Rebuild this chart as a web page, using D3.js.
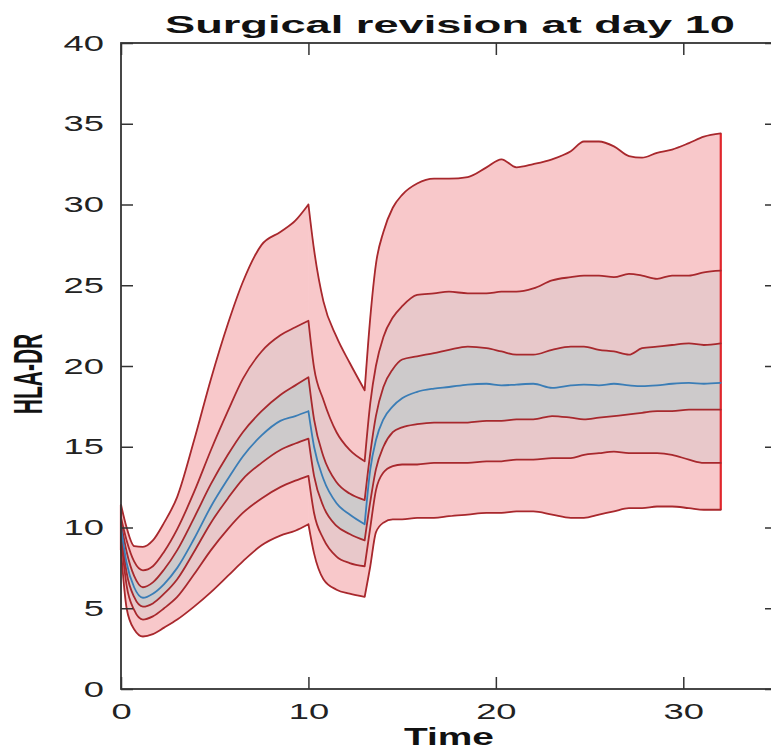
<!DOCTYPE html>
<html>
<head>
<meta charset="utf-8">
<script src="https://cdn.jsdelivr.net/npm/d3@7"></script>
<style>
  body { margin: 0; background: #fff; }
  text { font-family: "Liberation Sans", Arial, Helvetica, sans-serif; }
</style>
</head>
<body>
<script>
// time points (days)
var time = [0, 0.3, 0.7, 1.17, 1.7, 2.3, 3, 3.9, 4.8, 5.7, 6.5, 7.5, 8.5, 9.3, 10,
  10.3, 10.8, 11.5, 12.2, 13, 13.3, 13.6, 14, 14.5, 15, 15.8, 16.7, 17.5, 18.5, 19.5,
  20.3, 21.1, 22, 23, 24, 24.7, 25.5, 26.3, 27.1, 27.8, 28.6, 29.4, 30.3, 31.1, 32];

// percentile curves, outer -> inner
var outerHi = [11.4, 10.0, 8.85, 8.8, 9.2, 10.3, 11.9, 15.4, 19.2, 22.6, 25.2, 27.5, 28.3, 29.0, 30.0,
  27.2, 24.0, 21.8, 20.2, 18.5, 23.0, 26.3, 28.3, 29.8, 30.6, 31.3, 31.6, 31.6, 31.7, 32.3,
  32.8, 32.3, 32.5, 32.8, 33.3, 33.9, 33.9, 33.6, 33.0, 32.9, 33.2, 33.4, 33.8, 34.2, 34.4];
var midHi = [10.6, 9.2, 7.9, 7.35, 7.6, 8.5, 9.9, 12.2, 14.8, 17.2, 19.2, 20.9, 21.9, 22.4, 22.8,
  19.9, 17.9, 15.9, 14.8, 14.1, 17.7, 20.0, 21.8, 23.0, 23.7, 24.4, 24.5, 24.6, 24.5, 24.5,
  24.6, 24.6, 24.8, 25.3, 25.5, 25.6, 25.6, 25.5, 25.7, 25.6, 25.4, 25.6, 25.6, 25.8, 25.9];
var innerHi = [10.3, 8.5, 7.0, 6.3, 6.6, 7.4, 8.6, 10.6, 12.7, 14.5, 15.9, 17.2, 18.2, 18.8, 19.3,
  16.7, 14.4, 12.8, 12.1, 11.7, 14.6, 16.9, 18.7, 19.8, 20.4, 20.6, 20.8, 21.0, 21.2, 21.1,
  20.9, 20.7, 20.7, 21.0, 21.2, 21.2, 21.0, 20.9, 20.7, 21.1, 21.2, 21.3, 21.4, 21.3, 21.4];
var median = [10.0, 7.8, 6.3, 5.65, 5.9, 6.5, 7.5, 9.3, 11.3, 13.0, 14.4, 15.7, 16.6, 16.9, 17.2,
  15.0, 13.0, 11.5, 10.8, 10.2, 13.6, 15.4, 16.7, 17.5, 18.0, 18.4, 18.6, 18.7, 18.85, 18.9,
  18.8, 18.85, 18.9, 18.65, 18.8, 18.85, 18.8, 18.9, 18.8, 18.75, 18.8, 18.9, 18.95, 18.9, 18.95];
var innerLo = [9.8, 7.2, 5.7, 5.1, 5.3, 5.9, 6.8, 8.5, 10.3, 11.8, 13.0, 14.0, 14.8, 15.2, 15.5,
  13.2, 11.3, 10.1, 9.6, 9.2, 11.6, 13.6, 15.0, 15.9, 16.2, 16.4, 16.5, 16.5, 16.5, 16.6,
  16.6, 16.7, 16.7, 16.9, 16.8, 16.7, 16.8, 16.9, 17.0, 17.1, 17.2, 17.2, 17.3, 17.3, 17.3];
var midLo = [9.4, 6.4, 4.9, 4.3, 4.5, 5.0, 5.7, 7.1, 8.6, 9.9, 10.9, 11.8, 12.5, 12.9, 13.2,
  10.9, 9.3, 8.2, 7.8, 7.6, 10.0, 12.3, 13.4, 13.8, 13.9, 13.9, 14.0, 14.0, 14.0, 14.1,
  14.1, 14.2, 14.2, 14.3, 14.3, 14.5, 14.6, 14.7, 14.6, 14.6, 14.6, 14.5, 14.2, 14.0, 14.0];
var outerLo = [8.6, 5.0, 3.7, 3.25, 3.4, 3.8, 4.3, 5.1, 6.0, 7.0, 7.9, 8.9, 9.5, 9.8, 10.2,
  8.4, 6.8, 6.15, 5.9, 5.7, 7.6, 9.7, 10.3, 10.5, 10.5, 10.6, 10.6, 10.7, 10.8, 10.9,
  10.9, 11.0, 11.0, 10.8, 10.6, 10.6, 10.8, 11.0, 11.2, 11.2, 11.3, 11.3, 11.2, 11.1, 11.1];

// the curves have sharp corners at these days (start of decay, revision)
var breakDays = [10, 13];

var xTicks = [0, 10, 20, 30];
var yTicks = [0, 5, 10, 15, 20, 25, 30, 35, 40];

var svgWidth = 771, svgHeight = 749;
var margin = {top: 43, left: 121};
var chartWidth = 656, chartHeight = 646;

var svg = d3.select("body")
  .append("svg")
  .attr("width", svgWidth)
  .attr("height", svgHeight);

var chartGroup = svg.append("g")
  .attr("transform", `translate(${margin.left}, ${margin.top})`);

var x = d3.scaleLinear().domain([0, 35]).range([0, chartWidth]);
var y = d3.scaleLinear().domain([0, 40]).range([chartHeight, 0]);

// index ranges between the corners
var cuts = [0].concat(breakDays.map(b => time.indexOf(b)), [time.length - 1]);
var segments = d3.pairs(cuts).map(p => d3.range(p[0], p[1] + 1));

function drawBand(lo, hi, color) {
  var area = d3.area()
    .curve(d3.curveMonotoneX)
    .x(i => x(time[i]))
    .y0(i => y(lo[i]))
    .y1(i => y(hi[i]));
  segments.forEach(function(seg) {
    chartGroup.append("path")
      .attr("d", area(seg))
      .style("fill", color)
      .style("stroke", color)
      .style("stroke-width", 0.8);
  });
}

function drawLine(s, color) {
  var line = d3.line()
    .curve(d3.curveMonotoneX)
    .x(i => x(time[i]))
    .y(i => y(s[i]));
  chartGroup.append("path")
    .attr("d", segments.map(seg => line(seg)).join(""))
    .style("fill", "none")
    .style("stroke", color)
    .style("stroke-width", 1.8)
    .style("stroke-linecap", "round")
    .style("stroke-linejoin", "round");
}

drawBand(outerLo, outerHi, "#f8c8ca");
drawBand(midLo, midHi, "#e8c8ca");
drawBand(innerLo, innerHi, "#cdcacb");

// bright red patch edges at both ends
[0, time.length - 1].forEach(function(i) {
  chartGroup.append("line")
    .attr("x1", x(time[i])).attr("x2", x(time[i]))
    .attr("y1", y(outerLo[i])).attr("y2", y(outerHi[i]))
    .style("stroke", "#e0262c")
    .style("stroke-width", 2.2);
});

[outerHi, midHi, innerHi, innerLo, midLo, outerLo].forEach(s => drawLine(s, "#a8282d"));
drawLine(median, "#3a7db6");

// axes, ticks point inward on all four sides
function styleAxis(g) {
  g.select(".domain").remove();
  g.selectAll(".tick line").style("stroke", "#333").style("stroke-width", 1.5);
  g.selectAll(".tick text")
    .style("font-size", "22px")
    .style("fill", "#222")
    .each(function() {
      var w = this.getComputedTextLength();
      d3.select(this).attr("textLength", w * 1.65).attr("lengthAdjust", "spacingAndGlyphs");
    });
}

chartGroup.append("g")
  .attr("transform", `translate(0, ${chartHeight})`)
  .call(d3.axisBottom(x).tickValues(xTicks).tickSizeInner(-12).tickSizeOuter(0).tickPadding(14))
  .call(styleAxis);

chartGroup.append("g")
  .call(d3.axisLeft(y).tickValues(yTicks).tickSizeInner(-12).tickSizeOuter(0).tickPadding(17))
  .call(styleAxis);

chartGroup.append("g")
  .call(d3.axisTop(x).tickValues(xTicks).tickSizeInner(-12).tickSizeOuter(0).tickFormat(""))
  .call(styleAxis);

chartGroup.append("g")
  .attr("transform", `translate(${chartWidth}, 0)`)
  .call(d3.axisRight(y).tickValues(yTicks).tickSizeInner(-12).tickSizeOuter(0).tickFormat(""))
  .call(styleAxis);

chartGroup.append("rect")
  .attr("width", chartWidth)
  .attr("height", chartHeight)
  .style("fill", "none")
  .style("stroke", "#333")
  .style("stroke-width", 1.8);

// title and labels
svg.append("text")
  .attr("x", 450)
  .attr("y", 33)
  .attr("text-anchor", "middle")
  .attr("textLength", 570)
  .attr("lengthAdjust", "spacingAndGlyphs")
  .style("font-size", "24px")
  .style("font-weight", "bold")
  .style("fill", "#111")
  .text("Surgical revision at day 10");

svg.append("text")
  .attr("x", 449)
  .attr("y", 745)
  .attr("text-anchor", "middle")
  .attr("textLength", 90)
  .attr("lengthAdjust", "spacingAndGlyphs")
  .style("font-size", "24px")
  .style("font-weight", "bold")
  .style("fill", "#111")
  .text("Time");

svg.append("text")
  .attr("transform", "translate(42, 374) scale(1.9, 1) rotate(-90)")
  .attr("text-anchor", "middle")
  .style("font-size", "21px")
  .style("font-weight", "bold")
  .style("fill", "#111")
  .text("HLA-DR");
</script>
</body>
</html>
